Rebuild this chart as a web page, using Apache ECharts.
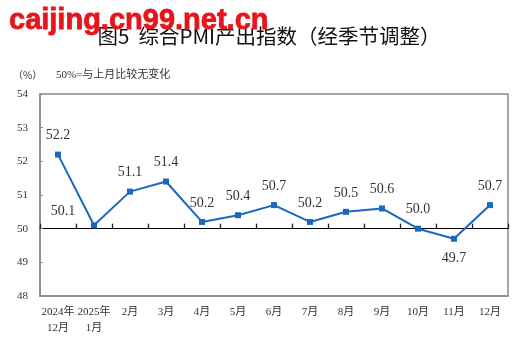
<!DOCTYPE html>
<html>
<head>
<meta charset="utf-8">
<script src="https://cdn.jsdelivr.net/npm/echarts@6/dist/echarts.min.js"></script>
<style>
  html, body { margin: 0; padding: 0; background: #fff; }
  #chart { width: 519px; height: 346px; }
</style>
</head>
<body>
<div id="chart"></div>
<script>
// Composite PMI output index, seasonally adjusted
const months = ['2024年\n12月', '2025年\n1月', '2月', '3月', '4月', '5月', '6月', '7月', '8月', '9月', '10月', '11月', '12月'];
const pmiValues = [52.2, 50.1, 51.1, 51.4, 50.2, 50.4, 50.7, 50.2, 50.5, 50.6, 50.0, 49.7, 50.7];
const yTicks = [48, 49, 50, 51, 52, 53, 54];

const yMin = yTicks[0], yMax = yTicks[yTicks.length - 1];
const baseline = 50;
const gridTop = 94, gridBottom = 50, chartH = 346;
const gridH = chartH - gridTop - gridBottom;

const serif = '"Liberation Serif", "Noto Sans CJK SC", serif';
const lineColor = '#1a68bf';

// per-point label placement
function labelFor(i) {
  if (i === 1) return { position: 'top', offset: [-31, 1] };
  if (i === 11) return { position: 'bottom', distance: 10 };
  return { position: 'top', distance: 9 };
}

const data = pmiValues.map((v, i) => ({ value: v, label: labelFor(i) }));

const chart = echarts.init(document.getElementById('chart'));
chart.setOption({
  backgroundColor: '#fff',
  animation: false,
  title: [
    {
      text: '图5  综合PMI产出指数（经季节调整）',
      left: 264, top: 21, textAlign: 'center',
      textStyle: { fontFamily: '"Noto Sans CJK SC", serif', fontSize: 20.5, fontWeight: 'normal', color: '#111' }
    },
    {
      text: 'caijing.cn99.net.cn',
      left: 4, top: 1,
      textStyle: { fontFamily: '"Liberation Sans", Arial, sans-serif', fontSize: 29, fontWeight: 'bold', color: '#e8141c',
        textBorderColor: '#e8141c', textBorderWidth: 0.8 }
    },
    {
      text: '（%）',
      left: 8, top: 65,
      textStyle: { fontFamily: '"Noto Sans CJK SC", serif', fontSize: 10, fontWeight: 'normal', color: '#333' }
    },
    {
      text: '50%=与上月比较无变化',
      left: 51, top: 65,
      textStyle: { fontFamily: '"Liberation Serif", "Noto Sans CJK SC", serif', fontSize: 11, fontWeight: 'normal', color: '#333' }
    }
  ],
  grid: {
    left: 40, right: 11, top: gridTop, bottom: gridBottom,
    show: true, borderColor: '#8a8a8a', borderWidth: 1.5, backgroundColor: 'transparent'
  },
  xAxis: [
    {
      type: 'category', data: months, boundaryGap: true,
      axisLine: { show: true, lineStyle: { color: '#8a8a8a', width: 1.5 } },
      axisTick: { show: false },
      axisLabel: { fontFamily: serif, fontSize: 11, color: '#333', margin: 8, lineHeight: 16, interval: 0 }
    },
    {
      // reference line at 50, with a tick at every month boundary
      type: 'value', min: 0, max: months.length, interval: 1, position: 'bottom',
      offset: -gridH * (baseline - yMin) / (yMax - yMin),
      axisLine: { show: true, lineStyle: { color: '#000', width: 1 } },
      axisTick: { show: true, inside: true, length: 5, lineStyle: { color: '#222', width: 1.3 } },
      axisLabel: { show: false },
      splitLine: { show: false }
    }
  ],
  yAxis: {
    type: 'value', min: yMin, max: yMax, interval: 1,
    axisLine: { show: true, lineStyle: { color: '#8a8a8a', width: 1.5 } },
    axisTick: { show: true, inside: true, length: 3, lineStyle: { color: '#8a8a8a' } },
    splitLine: { show: false },
    axisLabel: { fontFamily: serif, fontSize: 11, color: '#333', margin: 12 }
  },
  series: [
    {
      type: 'line', data: data, xAxisIndex: 0,
      symbol: 'rect', symbolSize: 6,
      lineStyle: { color: lineColor, width: 2 },
      itemStyle: { color: lineColor },
      label: {
        show: true, fontFamily: serif, fontSize: 14, color: '#333',
        formatter: p => p.value.toFixed(1)
      }
    }
  ]
});
</script>
</body>
</html>
